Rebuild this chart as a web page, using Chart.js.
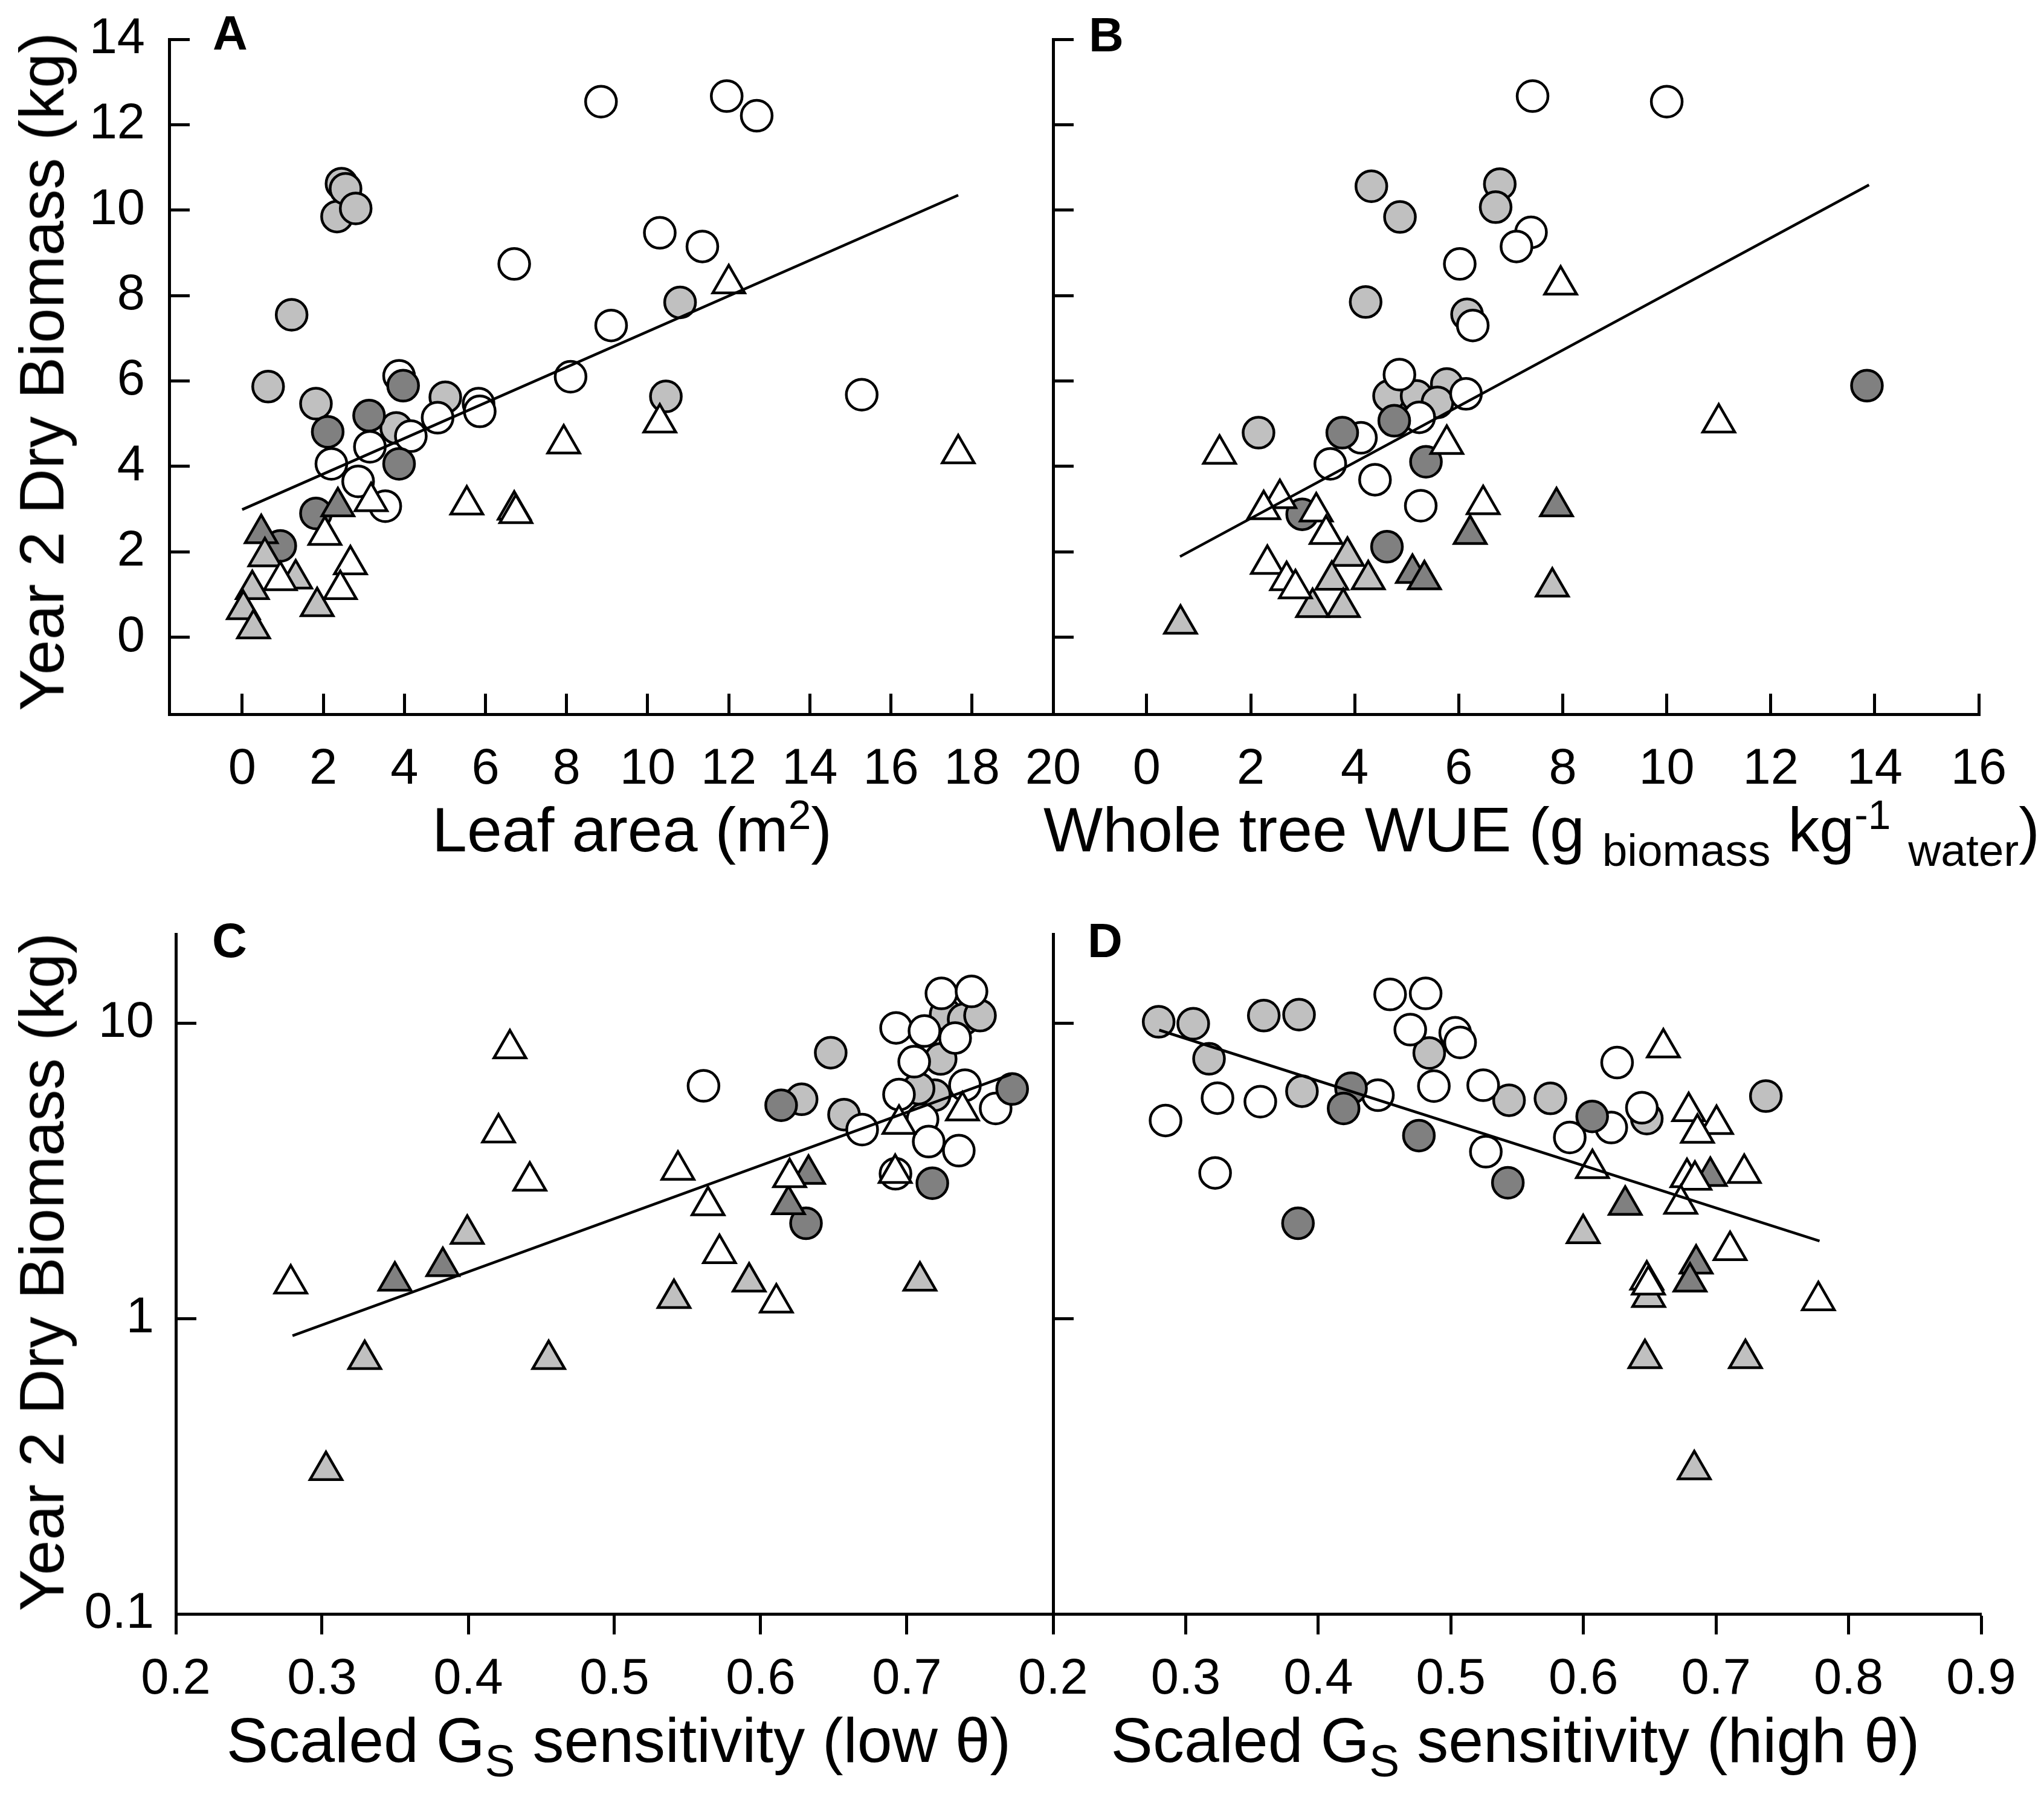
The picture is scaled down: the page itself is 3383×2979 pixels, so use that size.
<!DOCTYPE html>
<html><head><meta charset="utf-8">
<script src="https://cdn.jsdelivr.net/npm/chart.js@4.4.1/dist/chart.umd.min.js"></script>
<style>
html,body{margin:0;padding:0;background:#fff;}
#page{position:relative;width:3383px;height:2979px;overflow:hidden;background:#fff;font-family:"Liberation Sans",Arial,sans-serif;color:#000;}
canvas{position:absolute;}
.t{position:absolute;white-space:nowrap;line-height:1;font-size:104px;}
.ct{transform:translate(-50%,-50%);}
.lft{transform:translate(0,-50%);}
.yt{transform:translate(-50%,-50%) rotate(-90deg);}
.lt{position:absolute;line-height:1;font-weight:bold;font-size:80px;transform:translate(-50%,-50%);}
.sub{position:relative;font-size:0.72em;top:0.32em;}
.sup{position:relative;font-size:0.65em;top:-0.55em;}
</style></head><body><div id="page">
<div class="t yt" style="left:69px;top:615px;">Year 2 Dry Biomass (kg)</div>
<div class="t yt" style="left:69px;top:2105px;">Year 2 Dry Biomass (kg)</div>
<div class="t ct" style="left:1046px;top:1373px;">Leaf area (m<span class="sup">2</span>)</div>
<div class="t lft" style="left:1727px;top:1373px;">Whole tree WUE (g <span class="sub">biomass</span> kg<span class="sup">-1</span> <span class="sub">water</span>)</div>
<div class="t ct" style="left:1024px;top:2880px;">Scaled G<span class="sub">S</span> sensitivity (low θ)</div>
<div class="t ct" style="left:2508px;top:2880px;">Scaled G<span class="sub">S</span> sensitivity (high θ)</div>
<div class="lt" style="left:381px;top:55px;">A</div>
<div class="lt" style="left:1831px;top:58px;">B</div>
<div class="lt" style="left:380px;top:1557px;">C</div>
<div class="lt" style="left:1829px;top:1557px;">D</div>
</div>
<script>
// ---------- Panel A: leaf area vs biomass ----------
const aOpenCircle = [[8.85,12.54],[11.95,12.67],[12.69,12.21],[6.71,8.74],[10.3,9.47],[11.35,9.15],[9.1,7.3],[8.1,6.1],[15.28,5.68],[5.83,5.47],[5.86,5.29],[4.82,5.14],[3.87,6.12],[4.16,4.71],[3.15,4.46],[2.2,4.06],[2.86,3.65],[3.53,3.07]];
const aLightCircle = [[1.22,7.55],[0.64,5.87],[1.82,5.47],[2.34,9.85],[2.45,10.62],[2.55,10.5],[2.8,10.04],[10.8,7.84],[10.45,5.64],[5.01,5.62],[3.8,4.9]];
const aDarkCircle = [[3.97,5.89],[2.11,4.81],[3.13,5.19],[3.87,4.06],[1.82,2.9],[0.94,2.14]];
const aOpenTri = [[12.0,8.28],[10.3,5.02],[7.93,4.53],[17.66,4.3],[5.54,3.1],[6.71,2.98],[6.75,2.9],[3.18,3.18],[2.04,2.39],[2.67,1.7],[2.42,1.12],[0.94,1.33]];
const aLightTri = [[0.56,1.89],[0.25,1.12],[0.03,0.65],[0.28,0.2],[1.85,0.72],[1.32,1.37]];
const aDarkTri = [[0.47,2.43],[2.36,3.06]];
const aFit = [[0,2.99],[17.66,10.35]];
const aXTicks = [0,2,4,6,8,10,12,14,16,18,20];
const aXLabels = ['0','2','4','6','8','10','12','14','16','18','20'];
const abYTicks = [0,2,4,6,8,10,12,14];
const aYLabels = ['0','2','4','6','8','10','12','14'];

// ---------- Panel B: WUE vs biomass ----------
const bOpenCircle = [[7.42,12.67],[10.0,12.54],[7.39,9.48],[7.11,9.15],[6.02,8.74],[6.27,7.3],[4.86,6.15],[6.14,5.7],[5.24,5.15],[4.12,4.67],[3.53,4.06],[4.39,3.69],[5.27,3.08]];
const bLightCircle = [[4.32,10.56],[4.87,9.84],[6.79,10.61],[6.71,10.07],[4.21,7.85],[6.16,7.56],[2.15,4.79],[4.66,5.65],[5.19,5.65],[5.77,5.93],[5.59,5.5]];
const bDarkCircle = [[13.85,5.89],[3.76,4.79],[4.76,5.07],[5.37,4.11],[2.99,2.88],[4.62,2.12]];
const bOpenTri = [[7.96,8.25],[11.0,5.02],[1.4,4.29],[5.77,4.52],[6.47,3.11],[2.56,3.25],[2.25,2.99],[3.26,2.94],[3.45,2.41],[2.32,1.71],[2.69,1.33],[2.86,1.14]];
const bLightTri = [[3.86,1.9],[3.56,1.34],[4.26,1.35],[3.19,0.7],[3.78,0.7],[0.65,0.31],[7.8,1.18]];
const bDarkTri = [[7.88,3.06],[6.22,2.41],[5.11,1.5],[5.34,1.35]];
const bFit = [[0.64,1.89],[13.89,10.59]];
const bXTicks = [0,2,4,6,8,10,12,14,16];
const bXLabels = ['0','2','4','6','8','10','12','14','16'];

// ---------- Panel C: Gs sensitivity (low theta) ----------
const cOpenCircle = [[0.5609,6.13],[0.6694,4.36],[0.6926,9.63],[0.7236,12.6],[0.7442,12.8],[0.712,9.4],[0.733,8.9],[0.705,7.4],[0.6946,5.73],[0.7397,6.16],[0.7107,4.72],[0.7149,3.97],[0.7355,3.7],[0.7607,5.14],[0.6922,3.09]];
const cLightCircle = [[0.6479,7.94],[0.628,5.52],[0.657,4.9],[0.719,5.7],[0.7231,7.56],[0.7265,10.7],[0.7388,10.3],[0.75,10.6],[0.708,6.0]];
const cDarkCircle = [[0.614,5.27],[0.772,5.98],[0.7174,2.87],[0.631,2.1]];
const cOpenTri = [[0.4285,8.19],[0.4207,4.25],[0.4421,2.92],[0.2786,1.31],[0.5434,3.18],[0.564,2.41],[0.5718,1.66],[0.6107,1.13],[0.6198,3.0],[0.692,3.1],[0.6946,4.55],[0.738,5.05]];
const cLightTri = [[0.3993,1.93],[0.3292,0.727],[0.455,0.727],[0.3027,0.306],[0.5407,1.17],[0.5921,1.33],[0.7089,1.34]];
const cDarkTri = [[0.3498,1.34],[0.3826,1.5],[0.619,2.43],[0.6327,3.08]];
const cFit = [[0.2798,0.874],[0.7712,6.7]];
const cXTicks = [0.2,0.3,0.4,0.5,0.6,0.7,0.8];
const cXLabels = ['0.2','0.3','0.4','0.5','0.6','0.7',''];

// ---------- Panel D: Gs sensitivity (high theta) ----------
const dOpenCircle = [[0.4542,12.5],[0.481,12.6],[0.4694,9.5],[0.5033,9.27],[0.507,8.6],[0.4872,6.12],[0.445,5.7],[0.324,5.57],[0.3563,5.42],[0.2848,4.68],[0.3222,3.11],[0.5244,6.16],[0.5264,3.67],[0.5897,4.1],[0.621,4.43],[0.6254,7.35],[0.6441,5.17]];
const dLightCircle = [[0.2796,10.1],[0.3057,9.95],[0.3589,10.6],[0.3855,10.68],[0.3176,7.57],[0.3877,5.88],[0.4837,7.92],[0.5439,5.48],[0.5751,5.56],[0.6478,4.75],[0.7376,5.66]];
const dDarkCircle = [[0.4247,6.02],[0.4191,5.14],[0.4759,4.16],[0.543,2.88],[0.3847,2.1],[0.6066,4.83]];
const dOpenTri = [[0.6603,8.25],[0.6794,5.02],[0.7004,4.54],[0.686,4.24],[0.6068,3.22],[0.7213,3.1],[0.6781,3.0],[0.6841,2.94],[0.6734,2.44],[0.7106,1.7],[0.7772,1.15],[0.6478,1.35],[0.649,1.3]];
const dLightTri = [[0.5998,1.94],[0.6492,1.18],[0.6464,0.732],[0.7222,0.732],[0.6836,0.308]];
const dDarkTri = [[0.6315,2.42],[0.6957,3.03],[0.685,1.53],[0.6804,1.33]];
const dFit = [[0.28,9.47],[0.7781,1.83]];
const dXTicks = [0.2,0.3,0.4,0.5,0.6,0.7,0.8,0.9];
const dXLabels = ['0.2','0.3','0.4','0.5','0.6','0.7','0.8','0.9'];

const cdYTicks = [0.1,1,10];
const cYLabels = ['0.1','1','10'];

// ---------- drawing ----------
const FONT = '"Liberation Sans", Arial, sans-serif';
const WHITE = '#ffffff', LIGHT = '#c0c0c0', DARK = '#808080';
Chart.defaults.font.family = FONT;
Chart.defaults.color = '#000';
const page = document.getElementById('page');

function pts(arr){ return arr.map(p => ({x:p[0], y:p[1]})); }
function series(arr, style, fill, order){
  return {type:'scatter', data:pts(arr), pointStyle:style,
    pointRadius: style === 'circle' ? 25.5 : 30.5,
    pointBackgroundColor:fill, pointBorderColor:'#000', pointBorderWidth:4.5,
    pointHoverRadius: style === 'circle' ? 25.5 : 30.5,
    order:order, clip:false, showLine:false};
}
function fitLine(arr){
  return {type:'line', data:pts(arr), borderColor:'#000', borderWidth:4.5,
    pointRadius:0, pointHoverRadius:0, fill:false, order:0, clip:false, tension:0};
}
function panelSets(oc, lc, dc, ot, lt, dt, fit){
  return [fitLine(fit),
    series(ot,'triangle',WHITE,1), series(lt,'triangle',LIGHT,2), series(dt,'triangle',DARK,3),
    series(dc,'circle',DARK,4), series(oc,'circle',WHITE,5), series(lc,'circle',LIGHT,6)];
}
function makePanel(cfg){
  const c = document.createElement('canvas');
  c.width = cfg.cw; c.height = cfg.ch;
  c.style.left = cfg.cx + 'px'; c.style.top = cfg.cy + 'px';
  c.style.width = cfg.cw + 'px'; c.style.height = cfg.ch + 'px';
  page.insertBefore(c, page.firstChild);
  const yW = cfg.L - cfg.cx, xH = cfg.cy + cfg.ch - cfg.B;
  const zeroPad = s => { s.paddingLeft = 0; s.paddingRight = 0; s.paddingTop = 0; s.paddingBottom = 0; };
  new Chart(c, {
    data:{datasets:cfg.datasets},
    options:{
      responsive:false, animation:false, devicePixelRatio:1, events:[],
      layout:{padding:{left:0, top:cfg.T - cfg.cy, right:cfg.cx + cfg.cw - cfg.R, bottom:0}},
      plugins:{legend:{display:false}, tooltip:{enabled:false}, title:{display:false}},
      scales:{
        x:{type:'linear', position:'bottom', min:cfg.xMin, max:cfg.xMax,
          afterBuildTicks: s => { s.ticks = cfg.xTicks.map(v => ({value:v})); },
          afterFit: s => { s.height = xH; zeroPad(s); },
          ticks:{autoSkip:false, maxRotation:0, minRotation:0, padding:cfg.xPad,
            font:{size:83, family:FONT}, color:'#000',
            callback:(v, i) => cfg.xLabels[i]},
          grid:{display:true, drawOnChartArea:false, drawTicks:true, tickLength:cfg.xTickLen,
            tickWidth:5, color:'#000', tickColor:'#000'},
          border:{display:true, color:'#000', width:5}},
        y:{type:cfg.yType, position:'left', min:cfg.yMin, max:cfg.yMax,
          afterBuildTicks: s => { s.ticks = cfg.yTicks.map(v => ({value:v})); },
          afterFit: s => { s.width = yW; zeroPad(s); },
          ticks:{autoSkip:false, padding:cfg.yPad, font:{size:83, family:FONT}, color:'#000',
            callback:(v, i) => cfg.yLabels ? cfg.yLabels[i] : ''},
          grid:{display:true, drawOnChartArea:false, drawTicks:true, tickLength:-34,
            tickWidth:5, color:'#000', tickColor:'#000'},
          border:{display:true, color:'#000', width:5}}
      }
    }
  });
}

makePanel({cx:0, cy:0, cw:1800, ch:1480, L:280, T:65, R:1743, B:1182,
  xMin:-1.8, xMax:20, yMin:-1.8, yMax:14, yType:'linear',
  xTicks:aXTicks, xLabels:aXLabels, yTicks:abYTicks, yLabels:aYLabels,
  xPad:76, xTickLen:-34, yPad:74,
  datasets:panelSets(aOpenCircle, aLightCircle, aDarkCircle, aOpenTri, aLightTri, aDarkTri, aFit)});

makePanel({cx:1600, cy:0, cw:1783, ch:1480, L:1743, T:65, R:3275, B:1182,
  xMin:-1.8, xMax:16, yMin:-1.8, yMax:14, yType:'linear',
  xTicks:bXTicks, xLabels:bXLabels, yTicks:abYTicks, yLabels:null,
  xPad:76, xTickLen:-34, yPad:74,
  datasets:panelSets(bOpenCircle, bLightCircle, bDarkCircle, bOpenTri, bLightTri, bDarkTri, bFit)});

makePanel({cx:0, cy:1480, cw:1800, ch:1499, L:291, T:1546, R:1743, B:2671,
  xMin:0.2, xMax:0.8, yMin:0.1, yMax:20, yType:'logarithmic',
  xTicks:cXTicks, xLabels:cXLabels, yTicks:cdYTicks, yLabels:cYLabels,
  xPad:25, xTickLen:34, yPad:70,
  datasets:panelSets(cOpenCircle, cLightCircle, cDarkCircle, cOpenTri, cLightTri, cDarkTri, cFit)});

makePanel({cx:1600, cy:1480, cw:1783, ch:1499, L:1743, T:1546, R:3279, B:2671,
  xMin:0.2, xMax:0.9, yMin:0.1, yMax:20, yType:'logarithmic',
  xTicks:dXTicks, xLabels:dXLabels, yTicks:cdYTicks, yLabels:null,
  xPad:25, xTickLen:34, yPad:70,
  datasets:panelSets(dOpenCircle, dLightCircle, dDarkCircle, dOpenTri, dLightTri, dDarkTri, dFit)});
</script>
</body></html>
